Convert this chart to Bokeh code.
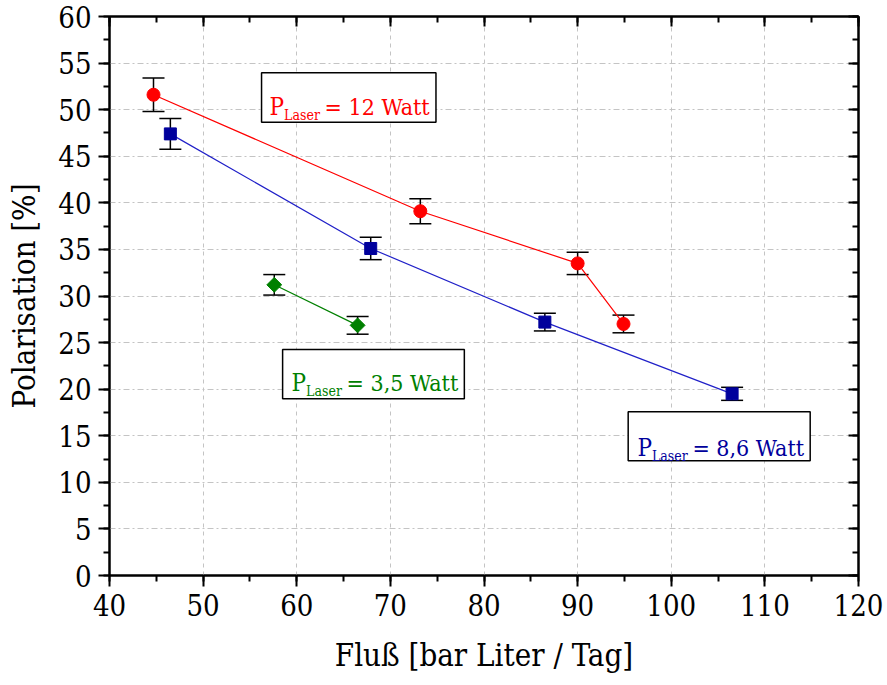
import numpy as np
from bokeh.plotting import figure
from bokeh.models import (Range1d, LinearAxis, SingleIntervalTicker, Whisker, TeeHead,
                          ColumnDataSource, BoxAnnotation, Label, CustomJSTickFormatter)
from bokeh.embed import file_html
from bokeh.resources import INLINE

# ---- data ----
red_x = [44.7, 73.2, 90.0, 94.9]
red_y = [51.6, 39.1, 33.5, 27.0]
red_err = [1.8, 1.35, 1.2, 0.95]

blue_x = [46.5, 67.9, 86.5, 106.5]
blue_y = [47.4, 35.1, 27.2, 19.5]
blue_err = [1.65, 1.2, 0.95, 0.7]

green_x = [57.6, 66.5]
green_y = [31.2, 26.85]
green_err = [1.1, 0.95]

x_label = "Fluß [bar Liter / Tag]"
y_label = "Polarisation [%]"

RED = "#ff0000"
BLUE_M = "#00009c"
BLUE_L = "#2020c8"
GREEN = "#008000"
FONT = "DejaVu Serif Condensed"

p = figure(width=887, height=685, output_backend="svg", toolbar_location=None,
           x_range=Range1d(40, 120), y_range=Range1d(0, 60),
           min_border_left=109, min_border_right=29, min_border_top=16, min_border_bottom=110,
           x_axis_label=x_label, y_axis_label=y_label)
p.background_fill_color = "white"
p.border_fill_color = "white"
p.outline_line_color = "black"
p.outline_line_width = 2

xt = SingleIntervalTicker(interval=10, num_minor_ticks=2)
yt = SingleIntervalTicker(interval=5, num_minor_ticks=2)
p.xaxis.ticker = xt
p.yaxis.ticker = yt
p.xgrid.ticker = xt
p.ygrid.ticker = yt

for ax in (p.xaxis[0], p.yaxis[0]):
    ax.axis_line_width = 2
    ax.major_tick_line_width = 2
    ax.minor_tick_line_width = 2
    ax.major_tick_out = 11
    ax.major_tick_in = 0
    ax.minor_tick_out = 6
    ax.minor_tick_in = 0
    ax.major_label_text_font = FONT
    ax.major_label_text_font_size = "29px"
    ax.major_label_text_color = "black"
    ax.axis_label_text_font = FONT
    ax.axis_label_text_font_size = "31px"
    ax.axis_label_text_font_style = "normal"
    ax.axis_label_text_color = "black"
p.xaxis.major_label_standoff = 7
p.yaxis.major_label_standoff = 7
p.xaxis.axis_label_standoff = 18
p.yaxis.axis_label_standoff = 13

# mirror axes (ticks inward, no labels)
blank = CustomJSTickFormatter(code="return ''")
top = LinearAxis(ticker=SingleIntervalTicker(interval=10, num_minor_ticks=2), formatter=blank)
right = LinearAxis(ticker=SingleIntervalTicker(interval=5, num_minor_ticks=2), formatter=blank)
for ax in (top, right):
    ax.axis_line_width = 2
    ax.major_tick_line_width = 2
    ax.minor_tick_line_width = 2
    ax.major_tick_out = 0
    ax.major_tick_in = 10
    ax.minor_tick_out = 0
    ax.minor_tick_in = 6
    ax.major_label_text_font_size = "1px"
    ax.major_label_standoff = 0
p.add_layout(top, "above")
p.add_layout(right, "right")

p.xgrid.grid_line_color = "#c4c4c4"
p.xgrid.grid_line_dash = "4 4"
p.xgrid.grid_line_width = 1
p.ygrid.grid_line_color = "#c4c4c4"
p.ygrid.grid_line_dash = "6 3 2 3"
p.ygrid.grid_line_width = 1


def series(xs, ys, errs, line_color, marker, fill, size, angle=0.0):
    src = ColumnDataSource(dict(x=xs, y=ys, lo=[a - b for a, b in zip(ys, errs)],
                                hi=[a + b for a, b in zip(ys, errs)]))
    w = Whisker(source=src, base="x", lower="lo", upper="hi", level="underlay",
                line_color="black", line_width=1.5,
                lower_head=TeeHead(size=22, line_width=1.5, line_color="black"),
                upper_head=TeeHead(size=22, line_width=1.5, line_color="black"))
    p.add_layout(w)
    p.line("x", "y", source=src, line_color=line_color, line_width=1.2)
    p.scatter("x", "y", source=src, marker=marker, size=size, fill_color=fill,
              line_color=fill, angle=angle)


series(red_x, red_y, red_err, RED, "circle", RED, 13)
series(blue_x, blue_y, blue_err, BLUE_L, "square", BLUE_M, 12)
series(green_x, green_y, green_err, GREEN, "square", GREEN, 10.5, angle=np.pi / 4)


def legend_box(left, right, bottom, top_, px, py, color, rest):
    p.add_layout(BoxAnnotation(left=left, right=right, bottom=bottom, top=top_,
                               fill_color="white", fill_alpha=1.0,
                               line_color="black", line_width=1.5, line_alpha=1.0))
    p.add_layout(Label(x=px, y=py, text="P", text_font=FONT, text_font_size="24px",
                       text_color=color, text_baseline="alphabetic"))
    p.add_layout(Label(x=px, y=py, x_offset=14.5, y_offset=-7.5, text="Laser",
                       text_font=FONT, text_font_size="14px", text_color=color,
                       text_baseline="alphabetic"))
    p.add_layout(Label(x=px, y=py, x_offset=55, text=rest, text_font=FONT,
                       text_font_size="23px", text_color=color, text_baseline="alphabetic"))


legend_box(56.24, 74.87, 48.66, 53.96, 57.10, 50.27, RED, "= 12 Watt")
legend_box(58.49, 77.90, 18.98, 24.27, 59.45, 20.62, GREEN, "= 3,5 Watt")
legend_box(95.40, 114.84, 12.32, 17.58, 96.39, 13.68, BLUE_M, "= 8,6 Watt")

open("out.html", "w").write(file_html(p, INLINE))
